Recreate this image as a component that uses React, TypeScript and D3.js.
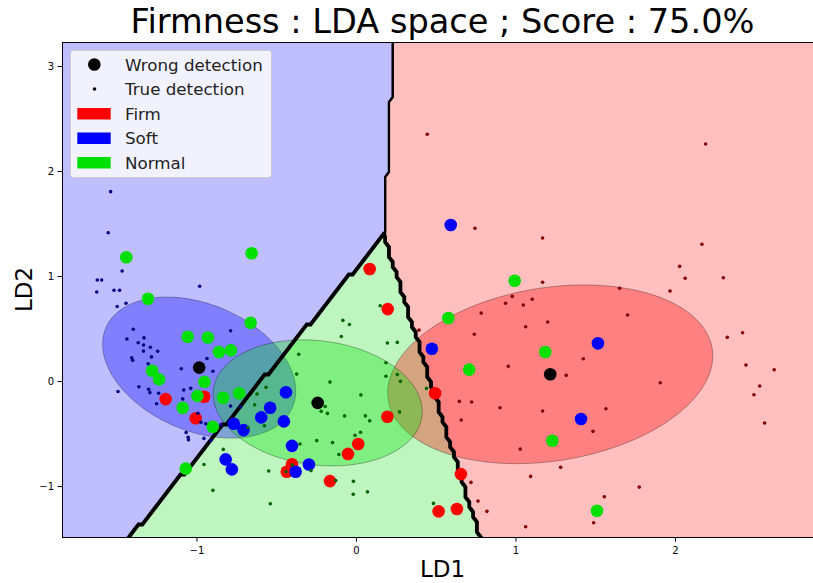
import React from "react";
import * as d3 from "d3";

type Pt = [number, number];

// axis window (LD1 runs a little past the right edge of the picture)
const xLimits: Pt = [-1.846, 2.925];
const yLimits: Pt = [-1.48, 3.233];
const xTicks = [-1, 0, 1, 2];
const yTicks = [-1, 0, 1, 2, 3];

const classNames = ["Firm", "Soft", "Normal"];

// where the three decision regions meet, and where each border leaves the axes
const apex: Pt = [0.172, 1.395];
const softFirmEnd: Pt = [0.235, 3.233];
const softNormalEnd: Pt = [-1.42, -1.48];
const normalFirmEnd: Pt = [0.774, -1.48];

// class means (also ellipse centres) and ellipse [width, height, angle deg] in LD units
const classMeans: Pt[] = [
  [1.215, 0.069],
  [-0.986, 0.133],
  [-0.243, -0.203],
];
const ellipseShapes: [number, number, number][] = [
  [2.116, 1.603, 24.4],
  [1.483, 1.034, -53.7],
  [1.355, 1.149, -28.8],
];

// misclassified samples, by true class
const firmWrong: Pt[] = [
  [0.083, 1.071], [0.196, 0.69], [0.194, -0.335], [0.493, -0.111], [0.655, -0.881],
  [0.63, -1.214], [0.515, -1.236], [0.011, -0.595], [-0.053, -0.689], [-0.166, -0.948],
  [-0.404, -0.788], [-0.437, -0.859], [-0.954, -0.145], [-1.196, -0.167], [-1.008, -0.35],
];
const softWrong: Pt[] = [
  [0.591, 1.49], [0.473, 0.312], [1.514, 0.364], [1.408, -0.357], [-0.442, -0.102],
  [-0.541, -0.25], [-0.597, -0.341], [-0.455, -0.379], [-0.769, -0.402], [-0.708, -0.462],
  [-0.404, -0.612], [-0.82, -0.741], [-0.781, -0.836], [-0.298, -0.789], [-0.381, -0.859],
];
const normalWrong: Pt[] = [
  [0.992, 0.96], [0.576, 0.605], [1.184, 0.281], [0.707, 0.114], [1.228, -0.564],
  [1.508, -1.23], [-1.443, 1.183], [-0.657, 1.221], [-1.307, 0.789], [-0.663, 0.56],
  [-1.058, 0.427], [-0.932, 0.419], [-0.862, 0.281], [-0.787, 0.297], [-1.281, 0.103],
  [-1.237, 0.021], [-0.953, -0.003], [-0.997, -0.136], [-0.836, -0.154], [-0.735, -0.111],
  [-1.089, -0.25], [-0.901, -0.43], [-1.07, -0.829],
];

// correctly classified samples
const firmTrue: Pt[] = [
  [0.444, 2.354], [2.189, 2.262], [0.743, 1.459], [1.167, 1.367], [2.166, 1.307],
  [2.026, 1.097], [2.061, 0.983], [2.3, 0.989], [1.167, 0.945], [1.65, 0.888],
  [1.966, 0.862], [0.977, 0.811], [1.102, 0.783], [0.935, 0.745], [1.046, 0.729],
  [0.782, 0.652], [1.7, 0.633], [1.199, 0.567], [1.061, 0.522], [0.739, 0.45],
  [2.325, 0.421], [2.421, 0.465], [0.392, 0.49], [1.422, 0.217], [0.952, 0.145],
  [1.315, 0.059], [2.442, 0.157], [2.619, 0.112], [2.528, -0.043], [2.492, -0.126],
  [1.905, -0.011], [0.645, -0.189], [0.722, -0.195], [0.9, -0.25], [1.167, -0.281],
  [1.564, -0.259], [0.657, -0.367], [1.483, -0.474], [2.559, -0.395], [1.027, -0.643],
  [1.28, -0.817], [1.092, -0.903], [1.773, -1.005], [1.554, -1.097], [0.718, -0.96],
  [0.762, -1.138], [0.818, -1.236], [1.487, -1.345], [1.061, -1.383],
];
const softTrue: Pt[] = [
  [-1.541, 1.808], [-1.556, 1.417], [-1.469, 1.052], [-1.625, 0.967], [-1.597, 0.967],
  [-1.52, 0.869], [-1.485, 0.869], [-1.628, 0.852], [-0.983, 0.908], [-1.5, 0.714],
  [-1.445, 0.745], [-1.399, 0.498], [-1.439, 0.405], [-1.332, 0.416], [-1.368, 0.369],
  [-1.335, 0.348], [-1.292, 0.327], [-1.335, 0.29], [-1.246, 0.289], [-1.285, 0.235],
  [-1.409, 0.227], [-1.403, 0.202], [-1.306, 0.169], [-0.789, 0.484], [-0.937, 0.219],
  [-0.9, 0.098], [-1.098, 0.122], [-1.364, -0.05], [-1.303, -0.073], [-1.295, -0.105],
  [-1.495, -0.095], [-1.24, -0.112], [-1.083, -0.081], [-1.039, -0.065], [-1.089, -0.165],
  [-1.253, -0.211], [-0.994, -0.302], [-0.789, -0.233], [-0.727, -0.243], [-0.975, -0.388],
  [-0.945, -0.402], [-0.85, -0.412], [-1.068, -0.486], [-1.055, -0.53], [-1.053, -0.555],
  [-0.956, -0.541], [-0.912, -0.56],
];
const normalTrue: Pt[] = [
  [0.149, 0.722], [-0.085, 0.583], [-0.044, 0.543], [-0.095, 0.429], [0.194, 0.367],
  [0.256, 0.373], [0.185, 0.179], [-0.362, 0.259], [0.185, 0.05], [0.256, 0.067],
  [0.276, 0.002], [-0.166, -0.005], [0.439, -0.065], [0.028, -0.127], [-0.196, -0.238],
  [-0.221, -0.283], [-0.182, -0.303], [-0.074, -0.327], [0.056, -0.327], [0.083, -0.374],
  [0.27, -0.289], [0.026, -0.483], [-0.009, -0.512], [-0.249, -0.562], [-0.15, -0.581],
  [-0.354, -0.595], [-0.11, -0.695], [-0.285, -0.848], [-0.13, -0.943], [-0.019, -0.95],
  [-0.02, -1.073], [0.069, -1.05], [0.483, -1.16], [-0.375, 0.071], [-0.567, -0.055],
  [-0.623, -0.119], [-0.638, -0.222], [-0.577, -0.421], [-0.68, -0.438], [-0.835, -0.646],
  [-0.956, -0.79], [-0.9, -1.036], [-0.54, -1.164], [-0.55, -0.852], [-0.403, -0.795],
  [-0.442, -0.859],
];

const wrongByClass = [firmWrong, softWrong, normalWrong];
const trueByClass = [firmTrue, softTrue, normalTrue];

const markColors = ["#ff0000", "#0000ff", "#00e000"];
const darkColors = ["#800000", "#000080", "#006400"];
const regionColors = ["#ffbfbf", "#bfbfff", "#bff5bf"];

const font = "DejaVu Sans, sans-serif";

const App: React.FC = () => {
  const width = 813;
  const height = 583;
  const m = { left: 62, top: 42, right: 823, bottom: 537 };

  const x = d3.scaleLinear().domain(xLimits).range([m.left, m.right]);
  const y = d3.scaleLinear().domain(yLimits).range([m.bottom, m.top]);

  // predicted class on a 200 x 100 mesh, like the pcolormesh behind the points
  const nx = 200;
  const ny = 100;
  const dx = (xLimits[1] - xLimits[0]) / (nx - 1);
  const dy = (yLimits[1] - yLimits[0]) / (ny - 1);
  const ang = (px: number, py: number) => Math.atan2(py - apex[1], px - apex[0]);
  const aTop = ang(softFirmEnd[0], softFirmEnd[1]);
  const aLeft = ang(softNormalEnd[0], softNormalEnd[1]);
  const aRight = ang(normalFirmEnd[0], normalFirmEnd[1]);
  const predict = (px: number, py: number) => {
    const a = ang(px, py);
    if (a >= aTop || a < aLeft) return 1;
    if (a < aRight) return 2;
    return 0;
  };
  const labels: number[] = [];
  for (let j = 0; j < ny; j++) {
    for (let i = 0; i < nx; i++) {
      labels.push(predict(xLimits[0] + i * dx, yLimits[1] - j * dy));
    }
  }
  const toScreen = d3.geoTransform({
    point(gx: number, gy: number) {
      (this as any).stream.point(
        x(xLimits[0] + (gx - 0.5) * dx),
        y(yLimits[1] - (gy - 0.5) * dy)
      );
    },
  });
  const geoPath = d3.geoPath(toScreen);
  const regionPaths = classNames.map((_, k) => {
    const mask = labels.map((l) => (l === k ? 1 : 0));
    const c = d3.contours().size([nx, ny]).thresholds([0.5])(mask)[0];
    return geoPath(c as any) || "";
  });

  const ellipseLine = d3
    .line<Pt>()
    .x((d) => x(d[0]))
    .y((d) => y(d[1]))
    .curve(d3.curveLinearClosed);
  const ellipsePath = (k: number) => {
    const [w, h, deg] = ellipseShapes[k];
    const [cx, cy] = classMeans[k];
    const t = (deg * Math.PI) / 180;
    const pts: Pt[] = d3.range(0, 2 * Math.PI, Math.PI / 90).map((s) => {
      const u = (w / 2) * Math.cos(s);
      const v = (h / 2) * Math.sin(s);
      return [cx + u * Math.cos(t) - v * Math.sin(t), cy + u * Math.sin(t) + v * Math.cos(t)];
    });
    return ellipseLine(pts) || "";
  };

  const minus = (v: number) => (v < 0 ? "\u2212" + Math.abs(v) : String(v));

  const legendRows = [
    { label: "Wrong detection", kind: "big" },
    { label: "True detection", kind: "small" },
    { label: "Firm", kind: "patch", color: markColors[0] },
    { label: "Soft", kind: "patch", color: markColors[1] },
    { label: "Normal", kind: "patch", color: markColors[2] },
  ];

  return (
    <svg
      width={width}
      height={height}
      style={{ position: "absolute", left: 0, top: 0, background: "#fff" }}
      fontFamily={font}
    >
      <defs>
        <clipPath id="plot">
          <rect x={m.left} y={m.top} width={m.right - m.left} height={m.bottom - m.top} />
        </clipPath>
      </defs>

      <g clipPath="url(#plot)">
        {regionPaths.map((d, k) => (
          <path key={"r" + k} d={d} fill={regionColors[k]} />
        ))}
        {classNames.map((_, k) => (
          <path
            key={"e" + k}
            d={ellipsePath(k)}
            fill={markColors[k]}
            fillOpacity={0.33}
            stroke="#000"
            strokeOpacity={0.3}
            strokeWidth={1}
          />
        ))}
        {[0, 1, 2].map((k) => (
          <path
            key={"b" + k}
            d={regionPaths[k]}
            fill="none"
            stroke="#000"
            strokeWidth={k === 2 ? 3.8 : 2.2}
            strokeLinejoin="miter"
          />
        ))}
        {wrongByClass.map((pts, k) =>
          pts.map((p, i) => (
            <circle key={`w${k}-${i}`} cx={x(p[0])} cy={y(p[1])} r={6.3} fill={markColors[k]} />
          ))
        )}
        {trueByClass.map((pts, k) =>
          pts.map((p, i) => (
            <circle key={`t${k}-${i}`} cx={x(p[0])} cy={y(p[1])} r={1.8} fill={darkColors[k]} />
          ))
        )}
        {classMeans.map((p, k) => (
          <circle key={"m" + k} cx={x(p[0])} cy={y(p[1])} r={6.3} fill="#000" />
        ))}
      </g>

      {/* frame */}
      <line x1={m.left + 0.5} x2={m.left + 0.5} y1={m.top} y2={m.bottom} stroke="#000" />
      <line x1={m.left} x2={m.right} y1={m.top + 0.5} y2={m.top + 0.5} stroke="#000" />
      <line x1={m.left} x2={m.right} y1={m.bottom + 0.5} y2={m.bottom + 0.5} stroke="#000" />

      {xTicks.map((t) => (
        <g key={"xt" + t} transform={`translate(${x(t)},${m.bottom})`}>
          <line y1={0} y2={4.5} stroke="#000" />
          <text y={16.5} textAnchor="middle" fontSize={10}>
            {minus(t)}
          </text>
        </g>
      ))}
      {yTicks.map((t) => (
        <g key={"yt" + t} transform={`translate(${m.left},${y(t)})`}>
          <line x1={0} x2={-4.5} stroke="#000" />
          <text x={-8} dy="0.35em" textAnchor="end" fontSize={10}>
            {minus(t)}
          </text>
        </g>
      ))}

      <text x={442.5} y={577} textAnchor="middle" fontSize={23}>
        LD1
      </text>
      <text transform={`translate(32,${(m.top + m.bottom) / 2}) rotate(-90)`} textAnchor="middle" fontSize={23}>
        LD2
      </text>
      <text x={442.5} y={33} textAnchor="middle" fontSize={33.6}>
        Firmness : LDA space ; Score : 75.0%
      </text>

      {/* legend */}
      <g>
        <rect x={70.5} y={50.5} width={201} height={127} rx={3} fill="#fff" fillOpacity={0.8} stroke="#cccccc" />
        {legendRows.map((row, i) => {
          const cy = 64.5 + i * 24.5;
          return (
            <g key={row.label}>
              {row.kind === "big" && <circle cx={94.3} cy={cy} r={6.3} fill="#000" />}
              {row.kind === "small" && <circle cx={94.5} cy={cy} r={1.8} fill="#000" />}
              {row.kind === "patch" && (
                <rect x={77.3} y={cy - 5.5} width={33.4} height={11.5} fill={row.color} />
              )}
              <text x={125} y={cy + 6} fontSize={16.7} fill="#222">
                {row.label}
              </text>
            </g>
          );
        })}
      </g>
    </svg>
  );
};

export default App;
